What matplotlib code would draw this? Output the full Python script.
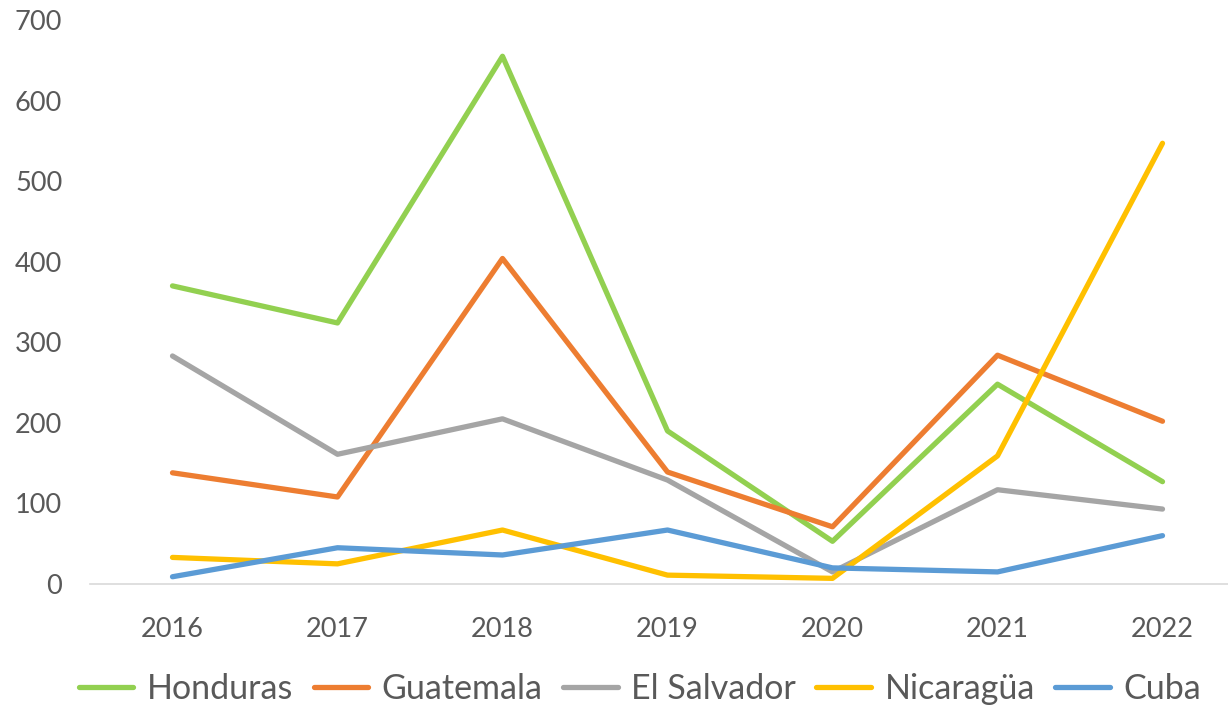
import numpy as np
import matplotlib.pyplot as plt

years = ['2016', '2017', '2018', '2019', '2020', '2021', '2022']
honduras = [370, 324, 655, 190, 53, 248, 127]
guatemala = [138, 108, 404, 139, 71, 284, 202]
el_salvador = [283, 161, 205, 129, 15, 117, 93]
nicaragua = [33, 25, 67, 11, 7, 159, 547]
cuba = [9, 45, 36, 67, 20, 15, 60]

series = [
    ('Honduras', honduras, '#92D050'),
    ('Guatemala', guatemala, '#ED7D31'),
    ('El Salvador', el_salvador, '#A5A5A5'),
    ('Nicaragüa', nicaragua, '#FFC000'),
    ('Cuba', cuba, '#5B9BD5'),
]

plt.rcParams['font.family'] = ['Lato', 'DejaVu Sans']
text_col = '#595959'

fig = plt.figure(figsize=(12.28, 7.11), dpi=100)
W, H = 1228, 711
# plot area in pixels: x 90..1245 (cropped at right), y 20..584
ax = fig.add_axes([90 / W, (H - 584) / H, (1245 - 90) / W, (584 - 20) / H])

x = np.arange(len(years))
for name, vals, col in series:
    ax.plot(x, vals, color=col, lw=3.8, label=name,
            solid_capstyle='round', solid_joinstyle='round')

ax.set_xlim(-0.5, len(years) - 0.5)
ax.set_ylim(0, 700)
ax.set_xticks(x)
ax.set_xticklabels(years)
ax.set_yticks(np.arange(0, 701, 100))
ax.tick_params(axis='both', length=0, labelsize=19.5, colors=text_col)
ax.tick_params(axis='x', pad=24)
ax.tick_params(axis='y', pad=20)
for s in ['top', 'right', 'left']:
    ax.spines[s].set_visible(False)
ax.spines['bottom'].set_color('#D9D9D9')
ax.spines['bottom'].set_linewidth(1.2)

leg = fig.legend(loc='center', bbox_to_anchor=(640 / W, (H - 689) / H), ncol=5,
                 frameon=False, fontsize=24.5, handlelength=1.6, handletextpad=0.4,
                 columnspacing=0.6, borderaxespad=0, borderpad=0)
for t in leg.get_texts():
    t.set_color(text_col)
for l in leg.get_lines():
    l.set_linewidth(3.8)
    l.set_solid_capstyle('round')

fig.savefig('out.png', dpi=100)
